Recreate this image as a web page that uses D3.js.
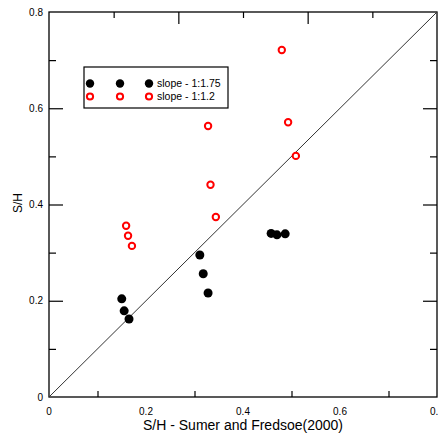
<!DOCTYPE html>
<html>
<head>
<meta charset="utf-8">
<script src="https://cdn.jsdelivr.net/npm/d3@7"></script>
<style>
  body { margin: 0; background: #fff; }
  text { font-family: "Liberation Sans", Arial, sans-serif; fill: #000; }
</style>
</head>
<body>
<svg id="chart" width="438" height="436"></svg>
<script>
// slope - 1:1.75 (filled black)
const blackX = [0.150, 0.155, 0.165, 0.311, 0.318, 0.328, 0.458, 0.470, 0.487];
const blackY = [0.204, 0.179, 0.162, 0.295, 0.256, 0.216, 0.340, 0.337, 0.339];
// slope - 1:1.2 (open red)
const redX = [0.159, 0.163, 0.171, 0.344, 0.333, 0.328, 0.493, 0.509, 0.480];
const redY = [0.356, 0.335, 0.314, 0.374, 0.441, 0.563, 0.571, 0.501, 0.721];

const labelTicks = [0, 0.2, 0.4, 0.6, 0.8];
const majorTicks = [0.2, 0.4, 0.6];
const minorTicks = [0.1, 0.3, 0.5, 0.7];
const topTicksShort = [0.1333, 0.4, 0.6667];
const topTicksLong = [0.2667, 0.5333];
const legendLabels = ["slope - 1:1.75", "slope - 1:1.2"];

const LEFT = 49, RIGHT = 437, TOP = 12, BOTTOM = 397;

const svg = d3.select("#chart");

const x = d3.scaleLinear().domain([0, 0.8]).range([LEFT, RIGHT]);
const y = d3.scaleLinear().domain([0, 0.8]).range([BOTTOM, TOP]);

const fmt = (d) => (d === 0 ? "0" : d3.format(".1f")(d));

// tick marks, all pointing inward
const tickGroup = (axis, tx, ty) =>
  svg
    .append("g")
    .attr("transform", `translate(${tx},${ty})`)
    .call(axis)
    .call((g) => g.select(".domain").remove())
    .call((g) => g.selectAll("line").attr("stroke", "#000").attr("stroke-width", 1.2))
    .call((g) => g.selectAll("text").remove());

tickGroup(d3.axisLeft(y).tickValues(majorTicks).tickSize(-14), LEFT, 0);
tickGroup(d3.axisLeft(y).tickValues(minorTicks).tickSize(-7), LEFT, 0);
tickGroup(d3.axisRight(y).tickValues(majorTicks).tickSize(-14), RIGHT, 0);
tickGroup(d3.axisRight(y).tickValues(minorTicks).tickSize(-7), RIGHT, 0);
tickGroup(d3.axisBottom(x).tickValues(minorTicks).tickSize(-6), 0, BOTTOM);
tickGroup(d3.axisTop(x).tickValues(topTicksShort).tickSize(-6), 0, TOP);
tickGroup(d3.axisTop(x).tickValues(topTicksLong).tickSize(-12), 0, TOP);

// tick labels
svg
  .append("g")
  .selectAll("text")
  .data(labelTicks)
  .join("text")
  .attr("x", LEFT - 6)
  .attr("y", (d) => y(d))
  .attr("dy", "0.35em")
  .attr("text-anchor", "end")
  .style("font-size", "10px")
  .text(fmt);

svg
  .append("g")
  .selectAll("text")
  .data(labelTicks)
  .join("text")
  .attr("x", (d) => x(d))
  .attr("y", BOTTOM + 18)
  .attr("text-anchor", "middle")
  .style("font-size", "10px")
  .text(fmt);

// frame
svg
  .append("rect")
  .attr("x", LEFT)
  .attr("y", TOP)
  .attr("width", RIGHT - LEFT)
  .attr("height", BOTTOM - TOP)
  .attr("fill", "none")
  .attr("stroke", "#000")
  .attr("stroke-width", 1.3);

// 1:1 line
svg
  .append("path")
  .datum([0, 0.8])
  .attr("fill", "none")
  .attr("stroke", "#333")
  .attr("stroke-width", 1)
  .attr("d", d3.line().x((d) => x(d)).y((d) => y(d)));

// points
svg
  .append("g")
  .selectAll("circle")
  .data(blackX.map((v, i) => [v, blackY[i]]))
  .join("circle")
  .attr("cx", (d) => x(d[0]))
  .attr("cy", (d) => y(d[1]))
  .attr("r", 4.5)
  .attr("fill", "#000");

svg
  .append("g")
  .selectAll("circle")
  .data(redX.map((v, i) => [v, redY[i]]))
  .join("circle")
  .attr("cx", (d) => x(d[0]))
  .attr("cy", (d) => y(d[1]))
  .attr("r", 3.2)
  .attr("fill", "#fff")
  .attr("stroke", "#f00")
  .attr("stroke-width", 2);

// legend
const legend = svg.append("g").attr("transform", "translate(84,67)");
legend
  .append("rect")
  .attr("width", 144)
  .attr("height", 41)
  .attr("fill", "#fff")
  .attr("stroke", "#000")
  .attr("stroke-width", 1.2);

const markerX = [6, 36, 65];
legendLabels.forEach((label, row) => {
  const cy = 16.5 + row * 13;
  legend
    .selectAll(`.m${row}`)
    .data(markerX)
    .join("circle")
    .attr("cx", (d) => d)
    .attr("cy", cy)
    .attr("r", row === 0 ? 4.2 : 3.1)
    .attr("fill", row === 0 ? "#000" : "#fff")
    .attr("stroke", row === 0 ? "none" : "#f00")
    .attr("stroke-width", 2);
  legend
    .append("text")
    .attr("x", 73)
    .attr("y", cy)
    .attr("dy", "0.35em")
    .style("font-size", "10.5px")
    .text(label);
});

// axis titles
svg
  .append("text")
  .attr("x", 243)
  .attr("y", 430)
  .attr("text-anchor", "middle")
  .style("font-size", "14px")
  .text("S/H - Sumer and Fredsoe(2000)");

svg
  .append("text")
  .attr("transform", "translate(22,203) rotate(-90)")
  .attr("text-anchor", "middle")
  .style("font-size", "12px")
  .text("S/H");
</script>
</body>
</html>
